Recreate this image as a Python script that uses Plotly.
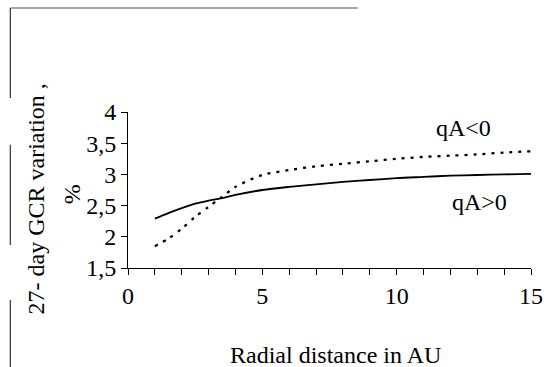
import plotly.graph_objects as go

radial_au = [1, 1.5, 2, 2.5, 3, 3.5, 4, 5, 6, 7, 8, 9, 10, 11, 12, 13, 14, 15]
qa_pos = [2.29, 2.38, 2.46, 2.53, 2.58, 2.62, 2.67, 2.75, 2.80, 2.84, 2.88, 2.91, 2.94, 2.96, 2.98, 2.99, 3.00, 3.01]
qa_neg = [1.85, 1.97, 2.13, 2.32, 2.48, 2.64, 2.80, 2.99, 3.07, 3.13, 3.17, 3.21, 3.25, 3.28, 3.30, 3.32, 3.35, 3.37]

FONT = "Liberation Serif, Times New Roman, serif"
FS = 24

fig = go.Figure()
fig.add_trace(go.Scatter(x=radial_au, y=qa_pos, mode="lines", name="qA>0",
                         line=dict(color="black", width=1.8, shape="spline", smoothing=0.8)))
fig.add_trace(go.Scatter(x=radial_au, y=qa_neg, mode="lines", name="qA<0",
                         line=dict(color="black", width=2.3, dash="3px,6px", shape="spline", smoothing=0.8)))

fig.update_layout(
    width=555, height=367,
    margin=dict(l=128, r=20, t=112, b=99),
    paper_bgcolor="white", plot_bgcolor="white",
    showlegend=False,
    separators=", ",
    font=dict(family=FONT, size=FS, color="black"),
    xaxis=dict(range=[0, 15], tick0=0, dtick=5, showgrid=False, zeroline=False,
               showline=True, linecolor="black", linewidth=1,
               ticks="outside", ticklen=6, tickwidth=1.2, tickcolor="black",
               minor=dict(dtick=1, ticks="outside", ticklen=6, tickwidth=1.2, tickcolor="black", showgrid=False)),
    yaxis=dict(range=[1.5, 4], tick0=1.5, dtick=0.5, showgrid=False, zeroline=False,
               showline=True, linecolor="black", linewidth=1,
               ticks="outside", ticklen=6, tickwidth=1.2, tickcolor="black",
               tickformat=".1~f"),
)

# x-axis title
fig.add_annotation(text="Radial distance in AU", xref="paper", yref="paper",
                   x=0.516, y=-0.558, showarrow=False, font=dict(size=FS),
                   xanchor="center", yanchor="middle")

# y-axis title in two lines
fig.add_annotation(text="27- day GCR variation ,", xref="paper", yref="paper",
                   x=-0.228, y=0.44, textangle=-90, showarrow=False,
                   font=dict(size=FS), xanchor="center", yanchor="middle")
fig.add_annotation(text="%", xref="paper", yref="paper",
                   x=-0.140, y=0.47, textangle=-90, showarrow=False,
                   font=dict(size=FS), xanchor="center", yanchor="middle")

# series labels
fig.add_annotation(text="qA<0", x=12.5, y=3.74, showarrow=False, font=dict(size=FS))
fig.add_annotation(text="qA>0", x=13.1, y=2.55, showarrow=False, font=dict(size=FS))

# scanned frame remnants
fig.add_shape(type="line", xref="paper", yref="paper", x0=-0.292, x1=0.570, y0=1.666, y1=1.666,
              line=dict(color="#888888", width=1.5))
for y0, y1 in [(1.666, 1.09), (0.79, 0.147), (-0.205, -0.635)]:
    fig.add_shape(type="line", xref="paper", yref="paper", x0=-0.292, x1=-0.292, y0=y0, y1=y1,
                  line=dict(color="#333333", width=1.2))

fig.write_html("out.html")
